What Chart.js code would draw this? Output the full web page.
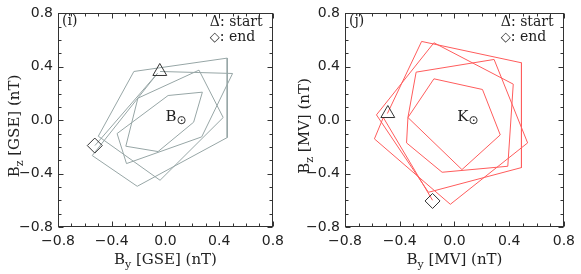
<!DOCTYPE html>
<html>
<head>
<meta charset="utf-8">
<script src="https://cdn.jsdelivr.net/npm/chart.js@4.4.1/dist/chart.umd.min.js"></script>
<style>
  body { margin: 0; background: #fff; }
  #wrap { position: relative; width: 581px; height: 274px; }
  canvas { position: absolute; top: 0; }
</style>
</head>
<body>
<div id="wrap">
  <canvas id="gseChart" width="290" height="274" style="left:0px"></canvas>
  <canvas id="mvChart" width="291" height="274" style="left:290px"></canvas>
</div>
<script>
// tick labels shared by both panels
const tickValues = [-0.8, -0.4, 0.0, 0.4, 0.8];

// panel (i): hodogram in GSE
const gseBy = [-0.04, 0.50, 0.27, -0.29, -0.36, 0.02, 0.275, 0.21, -0.055, -0.295, -0.205, 0.25, 0.43, -0.04, -0.50, -0.235, 0.46, 0.46, -0.21, -0.545, -0.06, -0.525];
const gseBz = [0.365, 0.35, -0.125, -0.325, -0.10, 0.185, 0.21, -0.015, -0.235, -0.195, 0.165, 0.375, 0.02, -0.45, -0.12, 0.365, 0.465, -0.13, -0.495, -0.265, 0.35, -0.19];
const gseStart = [-0.042, 0.365];
const gseEnd = [-0.526, -0.19];

// panel (j): hodogram in MV frame
const mvBy = [-0.49, -0.24, 0.49, 0.49, -0.19, -0.57, -0.15, 0.43, 0.39, -0.09, -0.35, -0.34, 0.055, 0.335, 0.205, -0.15, -0.34, -0.28, 0.29, 0.535, -0.03, -0.585, -0.52, -0.16];
const mvBz = [0.05, 0.59, 0.43, -0.355, -0.54, 0.04, 0.58, 0.27, -0.345, -0.39, -0.17, 0.02, -0.37, -0.11, 0.23, 0.31, 0.02, 0.36, 0.455, -0.17, -0.63, -0.14, 0.02, -0.60];
const mvStart = [-0.487, 0.05];
const mvEnd = [-0.16, -0.605];

const SERIF = 'DejaVu Serif';
const SANS = 'DejaVu Sans';
const INK = '#333';

function fmtTick(v) {
    if (Math.abs(v) < 1e-9) return '0.0';
    return (v < 0 ? '\u2212' : '') + Math.abs(v).toFixed(1);
}

// draws a run of text pieces [text, fontSize, dy, family]
function drawRun(ctx, parts, x, y, align) {
    let w = 0;
    parts.forEach(p => { ctx.font = p[1] + 'px "' + (p[3] || SERIF) + '"'; w += ctx.measureText(p[0]).width; });
    let cx = align === 'center' ? x - w / 2 : x;
    parts.forEach(p => {
        ctx.font = p[1] + 'px "' + (p[3] || SERIF) + '"';
        ctx.fillText(p[0], cx, y + p[2]);
        cx += ctx.measureText(p[0]).width;
    });
}

// IDL-like box: frame, inward ticks on all sides, labels
const frameDeco = {
    id: 'frameDeco',
    afterDraw(chart) {
        const o = chart.options.plugins.frameDeco;
        const { ctx, chartArea: a } = chart;
        const xs = chart.scales.x, ys = chart.scales.y;
        ctx.save();
        ctx.strokeStyle = INK;
        ctx.lineWidth = 1;
        const L = Math.round(a.left) + 0.5, R = Math.round(a.right) - 0.5;
        const T = Math.round(a.top) + 0.5, B = Math.round(a.bottom) - 0.5;
        ctx.strokeRect(L, T, R - L, B - T);
        ctx.beginPath();
        for (let k = -8; k <= 8; k++) {
            const v = k / 10;
            const len = (k % 4 === 0) ? 5 : 3;
            const px = Math.round(xs.getPixelForValue(v)) + 0.5;
            const py = Math.round(ys.getPixelForValue(v)) + 0.5;
            ctx.moveTo(px, B); ctx.lineTo(px, B - len);
            ctx.moveTo(px, T); ctx.lineTo(px, T + len);
            ctx.moveTo(L, py); ctx.lineTo(L + len, py);
            ctx.moveTo(R, py); ctx.lineTo(R - len, py);
        }
        ctx.stroke();

        ctx.fillStyle = '#222';
        ctx.textBaseline = 'alphabetic';
        ctx.textAlign = 'left';
        // panel tag
        drawRun(ctx, [[o.tag, 14, 0]], a.left + 4, a.top + 12, 'left');
        // start / end legend
        drawRun(ctx, [['\u0394: start', 14, 0]], a.right - 63, a.top + 13, 'left');
        drawRun(ctx, [['\u25C7', 13, 0, SANS], [': end', 14, 0]], a.right - 63, a.top + 27.5, 'left');
        // centre label
        const cx = xs.getPixelForValue(o.center[0]);
        const cy = ys.getPixelForValue(o.center[1]);
        drawRun(ctx, [[o.center[2], 15, 0], ['\u2299', 12, 3, SANS]], cx, cy, 'left');
        // x title
        drawRun(ctx, [['B', 15, 0], ['y', 11, 4], [' [' + o.frame + '] (nT)', 15, 0]], (a.left + a.right) / 2, 264, 'center');
        // y title
        ctx.translate(19, 126);
        ctx.rotate(-Math.PI / 2);
        drawRun(ctx, [['B', 15, 0], ['z', 11, 4], [' [' + o.frame + '] (nT)', 15, 0]], 0, 0, 'center');
        ctx.restore();
    }
};

function makePanel(id, by, bz, start, end, color, deco, leftW, rightPad) {
    const path = by.map((v, i) => ({ x: v, y: bz[i] }));
    return new Chart(document.getElementById(id), {
        type: 'scatter',
        data: {
            datasets: [
                { data: [{ x: start[0], y: start[1] }], pointStyle: 'triangle', pointRadius: 8,
                  borderColor: INK, backgroundColor: 'rgba(0,0,0,0)', borderWidth: 1, order: 0 },
                { data: [{ x: end[0], y: end[1] }], pointStyle: 'rectRot', pointRadius: 7.5,
                  borderColor: INK, backgroundColor: 'rgba(0,0,0,0)', borderWidth: 1, order: 0 },
                { data: path, showLine: true, pointRadius: 0, borderColor: color, borderWidth: 1,
                  tension: 0, order: 1 }
            ]
        },
        options: {
            responsive: false,
            animation: false,
            layout: { padding: { top: 7, right: rightPad, left: 0, bottom: 0 } },
            plugins: { legend: { display: false }, tooltip: { enabled: false }, frameDeco: deco },
            scales: {
                x: {
                    type: 'linear', min: -0.8, max: 0.8,
                    afterBuildTicks: s => { s.ticks = tickValues.map(v => ({ value: v })); },
                    afterFit: s => { s.height = 47; },
                    grid: { display: false, drawTicks: false }, border: { display: false },
                    ticks: { callback: fmtTick, color: '#222', padding: 6, maxRotation: 0,
                             font: { family: SANS, size: 14 } }
                },
                y: {
                    type: 'linear', min: -0.8, max: 0.8,
                    afterBuildTicks: s => { s.ticks = tickValues.map(v => ({ value: v })); },
                    afterFit: s => { s.width = leftW; },
                    grid: { display: false, drawTicks: false }, border: { display: false },
                    ticks: { callback: fmtTick, color: '#222', padding: 5,
                             font: { family: SANS, size: 14 } }
                }
            }
        },
        plugins: [frameDeco]
    });
}

makePanel('gseChart', gseBy, gseBz, gseStart, gseEnd, '#97a6a6',
    { tag: '(i)', frame: 'GSE', center: [0.0, -0.005, 'B'] }, 58, 14);
makePanel('mvChart', mvBy, mvBz, mvStart, mvEnd, '#ff5c5c',
    { tag: '(j)', frame: 'MV', center: [0.02, -0.005, 'K'] }, 55, 17);
</script>
</body>
</html>
